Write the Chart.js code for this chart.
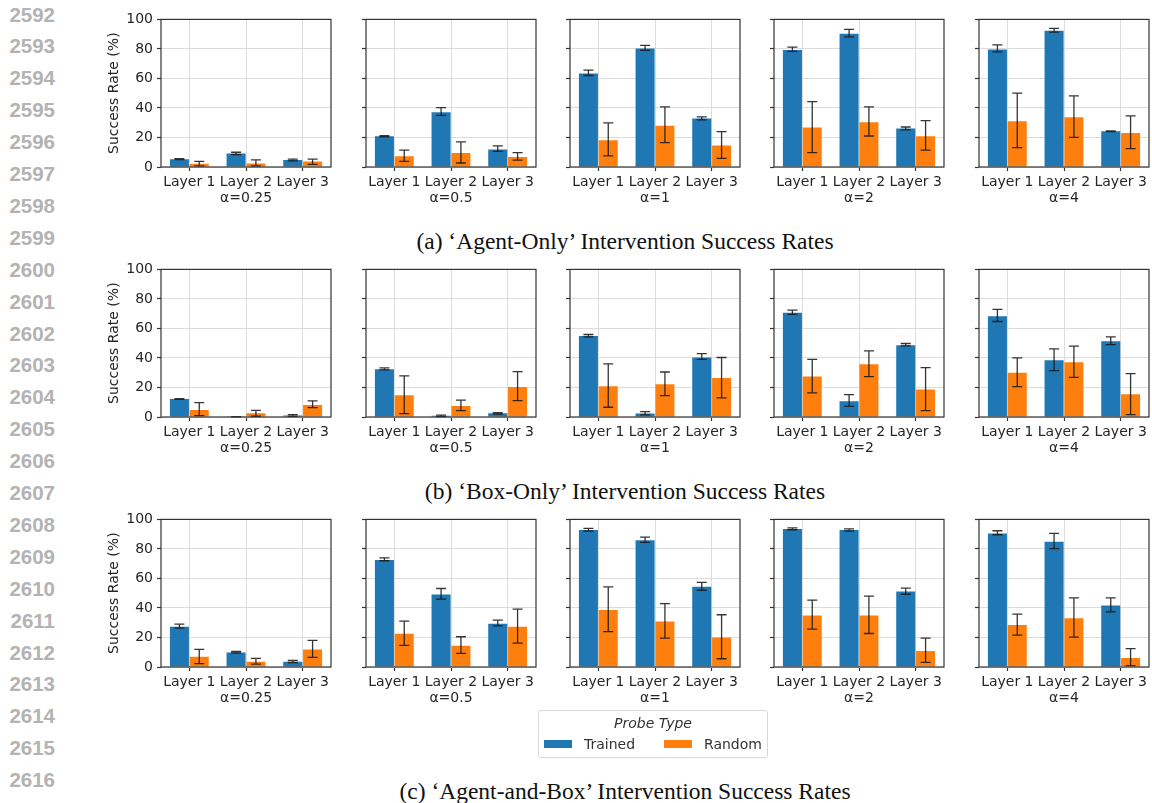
<!DOCTYPE html>
<html>
<head>
<meta charset="utf-8">
<script src="https://cdn.jsdelivr.net/npm/chart.js@4.4.1/dist/chart.umd.min.js"></script>
<style>
  html, body { margin: 0; padding: 0; background: #fff; }
  #page { position: relative; width: 1152px; height: 803px; overflow: hidden; background: #fff; }
  .lineno { position: absolute; left: 0; width: 55px; text-align: right;
            font: bold 20.5px "Liberation Sans", Arial, sans-serif; color: #b3b3b3; line-height: 20px; }
  .panel { position: absolute; }
  .caption { position: absolute; left: 0; width: 1250px; text-align: center;
             font: 23.5px "Liberation Serif", "Times New Roman", serif; color: #111; line-height: 24px; }
  #legend { position: absolute; left: 538px; top: 710px; width: 230px; height: 48px;
            border: 1px solid #d9d9d9; border-radius: 3px; box-sizing: border-box; background: #fff; }
  #legend .ttl { position: absolute; left: 0; right: 0; top: 4px; text-align: center;
                 font: italic 14px "DejaVu Sans", sans-serif; color: #333; line-height: 16px; }
  #legend .sw { position: absolute; top: 29px; width: 28px; height: 8px; }
  #legend .lbl { position: absolute; top: 25px; font: 14px "DejaVu Sans", sans-serif; color: #333; line-height: 16px; }
</style>
</head>
<body>
<div id="page"></div>
<script>
// ---- categories and tick labels ----
const layers = ['Layer 1', 'Layer 2', 'Layer 3'];
const alphas = ['α=0.25', 'α=0.5', 'α=1', 'α=2', 'α=4'];
const yTicks = [0, 20, 40, 60, 80, 100];
const seriesNames = ['Trained', 'Random'];
const captions = [
  '(a) ‘Agent-Only’ Intervention Success Rates',
  '(b) ‘Box-Only’ Intervention Success Rates',
  '(c) ‘Agent-and-Box’ Intervention Success Rates'
];
const lineNumbers = [2592, 2593, 2594, 2595, 2596, 2597, 2598, 2599, 2600, 2601, 2602, 2603,
  2604, 2605, 2606, 2607, 2608, 2609, 2610, 2611, 2612, 2613, 2614, 2615, 2616];

// ---- (a) Agent-Only: mean success rate per alpha, per layer ----
const agentOnlyTrained = [[5.3, 9.2, 4.8], [20.8, 37.1, 11.8], [63.3, 80.3, 32.8], [79.2, 90.3, 26.0], [79.6, 92.3, 24.2]];
const agentOnlyTrainedErr = [
  [[5.0, 5.6], [8.4, 10.0], [4.2, 5.4]],
  [[20.5, 21.2], [35.0, 40.2], [10.6, 14.3]],
  [[62.0, 65.6], [79.0, 82.4], [31.9, 33.9]],
  [[78.3, 81.2], [88.2, 93.2], [25.1, 27.1]],
  [[78.0, 82.8], [91.4, 93.9], [23.9, 24.5]]
];
const agentOnlyRandom = [[2.2, 2.4, 3.7], [7.2, 9.5, 6.8], [18.1, 28.0, 14.5], [26.7, 30.3, 20.8], [31.0, 33.7, 23.1]];
const agentOnlyRandomErr = [
  [[0.8, 3.8], [0.8, 4.8], [1.8, 5.4]],
  [[3.8, 11.5], [2.7, 17.0], [4.7, 9.7]],
  [[7.5, 29.9], [16.5, 40.7], [5.9, 24.0]],
  [[9.7, 44.3], [21.0, 40.7], [11.5, 31.4]],
  [[13.1, 50.0], [20.1, 48.2], [12.4, 34.6]]
];

// ---- (b) Box-Only ----
const boxOnlyTrained = [[12.2, 0.2, 1.0], [32.4, 0.8, 2.5], [54.8, 2.3, 40.3], [70.6, 10.6, 48.6], [68.3, 38.5, 51.4]];
const boxOnlyTrainedErr = [
  [[12.0, 12.4], [0.1, 0.3], [0.4, 1.6]],
  [[31.9, 33.3], [0.3, 1.3], [2.0, 3.0]],
  [[54.3, 55.9], [1.4, 3.6], [39.1, 43.0]],
  [[69.5, 72.4], [7.2, 15.2], [48.2, 49.8]],
  [[64.7, 72.9], [31.4, 46.2], [49.1, 54.3]]
];
const boxOnlyRandom = [[4.8, 2.5, 8.1], [14.7, 7.5, 20.4], [20.8, 22.2, 26.5], [27.4, 35.7, 18.6], [29.9, 37.1, 15.4]];
const boxOnlyRandomErr = [
  [[0.9, 9.7], [0.5, 4.5], [6.3, 10.9]],
  [[2.3, 27.8], [4.3, 11.5], [11.1, 30.8]],
  [[6.6, 36.0], [14.5, 30.5], [12.9, 40.3]],
  [[16.3, 39.1], [27.4, 44.8], [4.3, 33.5]],
  [[20.6, 40.0], [26.9, 48.0], [1.6, 29.4]]
];

// ---- (c) Agent-and-Box ----
const agentBoxTrained = [[27.3, 9.9, 3.6], [72.5, 49.1, 29.3], [92.8, 85.8, 54.3], [93.5, 92.8, 51.1], [90.5, 84.9, 41.7]];
const agentBoxTrainedErr = [
  [[26.4, 29.0], [9.4, 10.5], [3.0, 4.4]],
  [[72.0, 73.9], [46.0, 53.2], [27.9, 31.8]],
  [[92.1, 93.9], [84.5, 88.0], [52.0, 57.4]],
  [[93.0, 94.3], [92.1, 93.6], [49.3, 53.4]],
  [[89.6, 92.3], [80.2, 90.5], [37.4, 46.8]]
];
const agentBoxRandom = [[7.0, 3.6, 11.9], [22.5, 14.4, 27.3], [38.7, 30.9, 20.0], [34.9, 34.9, 10.8], [28.4, 33.1, 6.1]];
const agentBoxRandomErr = [
  [[2.3, 11.9], [2.0, 5.9], [6.5, 18.0]],
  [[14.6, 31.1], [9.2, 20.5], [16.2, 39.2]],
  [[23.9, 54.3], [19.6, 43.0], [5.6, 35.4]],
  [[25.7, 45.3], [22.7, 48.0], [3.2, 19.6]],
  [[21.6, 35.8], [20.3, 46.8], [0.9, 12.4]]
];

const rows = [
  { trained: agentOnlyTrained, trainedErr: agentOnlyTrainedErr, random: agentOnlyRandom, randomErr: agentOnlyRandomErr },
  { trained: boxOnlyTrained, trainedErr: boxOnlyTrainedErr, random: boxOnlyRandom, randomErr: boxOnlyRandomErr },
  { trained: agentBoxTrained, trainedErr: agentBoxTrainedErr, random: agentBoxRandom, randomErr: agentBoxRandomErr }
];

// ---- layout & style ----
const BLUE = '#1f77b4', ORANGE = '#ff7f0e';
const SPINE = '#333333', GRID = '#dcdcdc', TEXT = '#262626', ERR = 'rgba(25,25,25,0.88)';
const FONT = '"DejaVu Sans", sans-serif';
const PLOT_LEFTS = [161, 366, 570, 774, 979];
const ROW_TOPS = [19, 269, 519];
const PLOT_W = 170, PLOT_H = 148;
const Y_AXIS_W = 62, PAD_TOP = 12, PAD_RIGHT = 8, X_AXIS_H = 42;
const CAP = 5;

const page = document.getElementById('page');

// line numbers in the margin
lineNumbers.forEach((n, i) => {
  const d = document.createElement('div');
  d.className = 'lineno';
  d.style.top = (14.5 + i * 31.9 - 10) + 'px';
  d.textContent = n;
  page.appendChild(d);
});

// error bars drawn from the low/high arrays through the y scale
const errorBarPlugin = {
  id: 'errorBars',
  afterDatasetsDraw(chart) {
    const ctx = chart.ctx, y = chart.scales.y;
    chart.data.datasets.forEach((ds, di) => {
      const meta = chart.getDatasetMeta(di);
      ds.errorBars.forEach((eb, j) => {
        const x = meta.data[j].x;
        const lo = y.getPixelForValue(eb[0]), hi = y.getPixelForValue(eb[1]);
        ctx.save();
        ctx.strokeStyle = ERR;
        ctx.lineWidth = 1.3;
        ctx.beginPath();
        ctx.moveTo(x, lo); ctx.lineTo(x, hi);
        ctx.moveTo(x - CAP, lo); ctx.lineTo(x + CAP, lo);
        ctx.moveTo(x - CAP, hi); ctx.lineTo(x + CAP, hi);
        ctx.stroke();
        ctx.restore();
      });
    });
  }
};

// four-sided frame around each plot area
const framePlugin = {
  id: 'frame',
  afterDraw(chart) {
    const { ctx, chartArea: a } = chart;
    ctx.save();
    ctx.strokeStyle = SPINE;
    ctx.lineWidth = 1.2;
    ctx.strokeRect(a.left, a.top, a.right - a.left, a.bottom - a.top);
    ctx.restore();
  }
};

function makePanel(r, c) {
  const row = rows[r];
  const w = Y_AXIS_W + PLOT_W + PAD_RIGHT, h = PAD_TOP + PLOT_H + X_AXIS_H;
  const canvas = document.createElement('canvas');
  canvas.className = 'panel';
  canvas.width = w; canvas.height = h;
  canvas.style.width = w + 'px'; canvas.style.height = h + 'px';
  canvas.style.left = (PLOT_LEFTS[c] - Y_AXIS_W) + 'px';
  canvas.style.top = (ROW_TOPS[r] - PAD_TOP) + 'px';
  page.appendChild(canvas);

  new Chart(canvas, {
    type: 'bar',
    data: {
      labels: layers,
      datasets: [
        { label: seriesNames[0], data: row.trained[c], errorBars: row.trainedErr[c], backgroundColor: BLUE },
        { label: seriesNames[1], data: row.random[c], errorBars: row.randomErr[c], backgroundColor: ORANGE }
      ]
    },
    options: {
      responsive: false,
      animation: false,
      devicePixelRatio: 1,
      layout: { padding: { top: PAD_TOP, right: PAD_RIGHT, left: 0, bottom: 0 } },
      plugins: { legend: { display: false }, tooltip: { enabled: false } },
      datasets: { bar: { categoryPercentage: 0.7, barPercentage: 0.96 } },
      scales: {
        x: {
          grid: { offset: false, color: GRID, lineWidth: 1, tickColor: SPINE, tickLength: 4, tickWidth: 1.2 },
          border: { display: false },
          ticks: { color: TEXT, font: { family: FONT, size: 14 }, padding: 3, maxRotation: 0, autoSkip: false },
          title: { display: true, text: alphas[c], color: TEXT, font: { family: FONT, size: 14 }, padding: { top: 0, bottom: 2 } },
          afterFit(s) { s.height = X_AXIS_H; }
        },
        y: {
          min: 0, max: 100,
          afterBuildTicks(s) { s.ticks = yTicks.map(v => ({ value: v })); },
          grid: { color: GRID, lineWidth: 1, tickColor: SPINE, tickLength: 4, tickWidth: 1.2 },
          border: { display: false },
          ticks: {
            color: TEXT, font: { family: FONT, size: 14 }, padding: 4,
            callback: c === 0 ? (v => String(v)) : (() => '')
          },
          title: { display: c === 0, text: 'Success Rate (%)', color: TEXT, font: { family: FONT, size: 14 }, padding: { top: 7, bottom: 0 } },
          afterFit(s) { s.width = Y_AXIS_W; }
        }
      }
    },
    plugins: [errorBarPlugin, framePlugin]
  });
}

for (let r = 0; r < 3; r++) for (let c = 0; c < 5; c++) makePanel(r, c);

// sub-figure captions
[241, 491, 791].forEach((cy, i) => {
  const d = document.createElement('div');
  d.className = 'caption';
  d.style.top = (cy - 12) + 'px';
  d.textContent = captions[i];
  page.appendChild(d);
});

// shared legend
const legend = document.createElement('div');
legend.id = 'legend';
legend.innerHTML =
  '<div class="ttl">Probe Type</div>' +
  '<div class="sw" style="left:5px;background:' + BLUE + '"></div>' +
  '<div class="lbl" style="left:45px">' + seriesNames[0] + '</div>' +
  '<div class="sw" style="left:125px;background:' + ORANGE + '"></div>' +
  '<div class="lbl" style="left:165px">' + seriesNames[1] + '</div>';
page.appendChild(legend);
</script>
</body>
</html>
